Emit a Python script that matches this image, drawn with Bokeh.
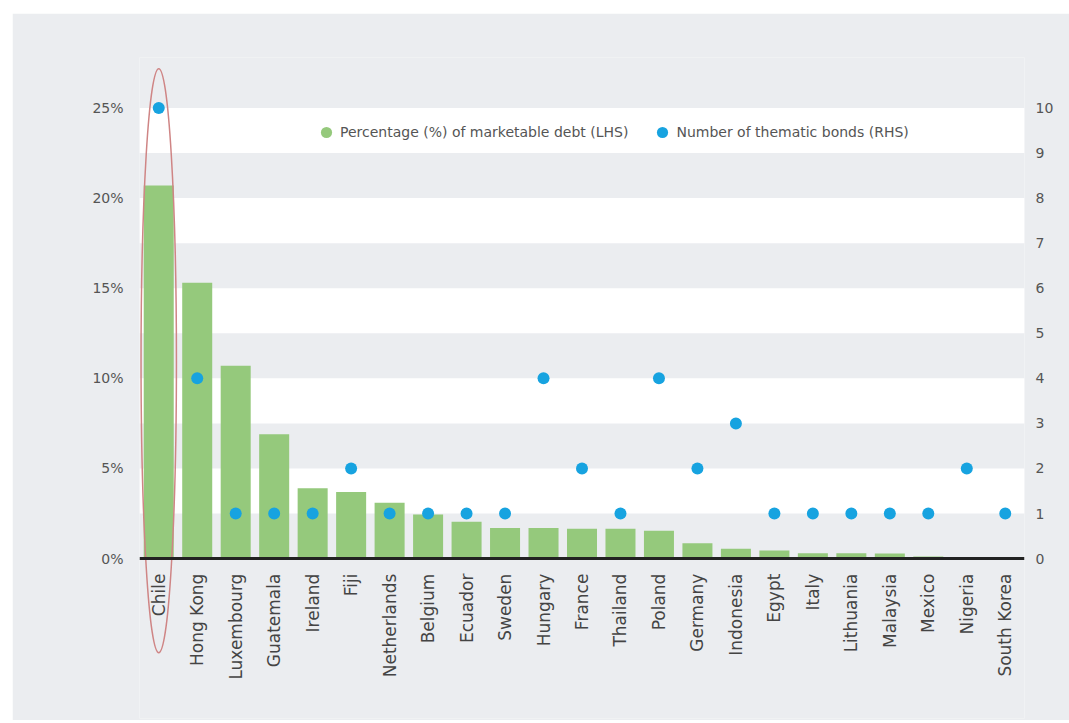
import numpy as np
from bokeh.plotting import figure
from bokeh.models import (Range1d, FactorRange, LinearAxis, FixedTicker, PrintfTickFormatter,
                          ColumnDataSource, Legend, LegendItem)
from bokeh.embed import file_html
from bokeh.resources import INLINE

countries = ["Chile", "Hong Kong", "Luxembourg", "Guatemala", "Ireland", "Fiji", "Netherlands",
             "Belgium", "Ecuador", "Sweden", "Hungary", "France", "Thailand", "Poland", "Germany",
             "Indonesia", "Egypt", "Italy", "Lithuania", "Malaysia", "Mexico", "Nigeria", "South Korea"]
pct_debt = [20.7, 15.3, 10.7, 6.9, 3.9, 3.7, 3.1, 2.45, 2.05, 1.7, 1.7, 1.65, 1.65, 1.55, 0.85,
            0.55, 0.45, 0.3, 0.3, 0.28, 0.12, 0.05, 0.05]
n_bonds = [10, 4, 1, 1, 1, 2, 1, 1, 1, 1, 4, 2, 1, 4, 2, 3, 1, 1, 1, 1, 1, 2, 1]
left_ticks = [0, 5, 10, 15, 20, 25]
right_ticks = list(range(0, 11))
highlight = [countries[0]]

GREEN = "#95c97c"
BLUE = "#17a3e0"
BG = "#ebedf0"
TXT = "#555555"

# left axis: percent; right axis: count (10 bonds <-> 25%)
L_TOP, L_BOT = 27.8, -8.87
RATIO = 2.5

src = ColumnDataSource(dict(country=countries, pct=pct_debt, bonds=n_bonds))

p = figure(width=1057, height=707, x_range=FactorRange(*countries, range_padding=0),
           y_range=Range1d(L_BOT, L_TOP), output_backend="svg", toolbar_location=None,
           min_border_left=127, min_border_right=45, min_border_top=44, min_border_bottom=2)
p.margin = (13, 0, 0, 12)
p.extra_y_ranges = {"bonds": Range1d(L_BOT / RATIO, L_TOP / RATIO)}

p.background_fill_color = BG
p.border_fill_color = BG
p.outline_line_color = None

# alternating white bands (2.5-5, 7.5-10, ... 22.5-25)
p.ygrid.grid_line_color = None
p.xgrid.grid_line_color = None
p.ygrid.ticker = FixedTicker(ticks=[2.5, 5, 7.5, 10, 12.5, 15, 17.5, 20, 22.5, 25])
p.ygrid.band_fill_color = "white"
p.ygrid.band_fill_alpha = 1.0

bars = p.vbar(x="country", top="pct", width=0.78, source=src, fill_color=GREEN, line_color=None)
dots = p.scatter(x="country", y="bonds", y_range_name="bonds", source=src, size=12,
                 fill_color=BLUE, line_color=None)
# invisible marker renderer used only for the round green legend swatch
legend_green = p.scatter(x="country", y="pct", source=src, size=0, fill_color=GREEN, line_color=None)

# highlight ellipse around Chile
p.ellipse(x=highlight, y=[10.98], width=0.92, height=32.4, fill_color=None,
          line_color="#cf8585", line_width=1.5)

# axes
p.yaxis.ticker = FixedTicker(ticks=left_ticks)
p.yaxis.formatter = PrintfTickFormatter(format="%d%%")
ya = p.yaxis[0]
ya.axis_line_color = None
ya.major_tick_line_color = None
ya.minor_tick_line_color = None
ya.major_label_standoff = 10
ya.major_label_text_font = "DejaVu Sans"
ya.major_label_text_font_size = "14px"
ya.major_label_text_color = TXT

ra = LinearAxis(y_range_name="bonds", ticker=FixedTicker(ticks=right_ticks))
ra.axis_line_color = None
ra.major_tick_line_color = None
ra.minor_tick_line_color = None
ra.major_label_standoff = 5
ra.major_label_text_font = "DejaVu Sans"
ra.major_label_text_font_size = "14px"
ra.major_label_text_color = TXT
p.add_layout(ra, "right")

xa = p.xaxis[0]
xa.fixed_location = 0
xa.axis_line_color = "#222222"
xa.axis_line_width = 3
xa.major_tick_line_color = None
xa.minor_tick_line_color = None
xa.major_label_orientation = np.pi / 2
xa.major_label_standoff = 9
xa.major_label_text_font = "DejaVu Sans"
xa.major_label_text_font_size = "17px"
xa.major_label_text_color = "#444444"

legend = Legend(items=[LegendItem(label="Percentage (%) of marketable debt (LHS)", renderers=[legend_green]),
                       LegendItem(label="Number of thematic bonds (RHS)", renderers=[dots])],
                orientation="horizontal", location=(173, 572), padding=0, margin=0,
                glyph_width=28, glyph_height=28, label_standoff=0, spacing=20,
                label_text_font="DejaVu Sans", label_text_font_size="14px", label_text_color=TXT,
                background_fill_alpha=0, border_line_color=None)
p.add_layout(legend, "center")

open("out.html", "w").write(file_html(p, INLINE))
